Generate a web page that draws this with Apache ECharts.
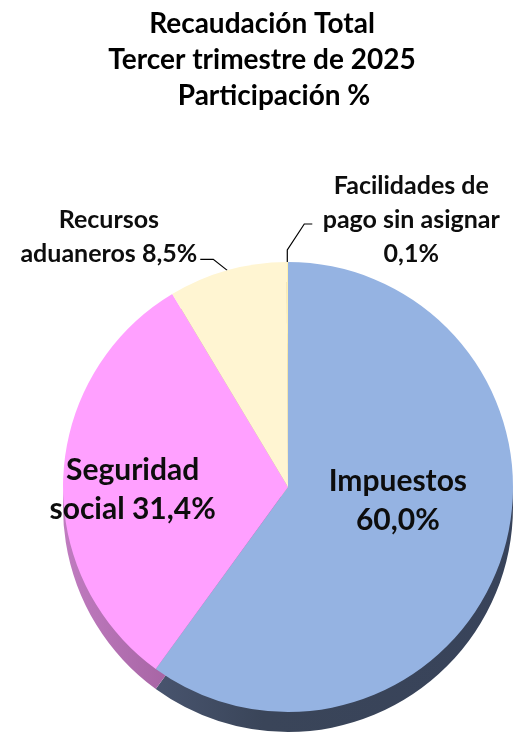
<!DOCTYPE html>
<html>
<head>
<meta charset="utf-8">
<script src="https://cdn.jsdelivr.net/npm/echarts@6/dist/echarts.min.js"></script>
<style>
  html, body { margin: 0; padding: 0; background: #fff; }
  #container { width: 529px; height: 733px; }
</style>
</head>
<body>
<div id="container"></div>
<script>
var categories = ['Impuestos', 'Seguridad social', 'Recursos aduaneros', 'Facilidades de pago sin asignar'];
var shares = [60.0, 31.4, 8.5, 0.1];
var labelTexts = ['Impuestos\n60,0%', 'Seguridad\nsocial 31,4%', 'Recursos\naduaneros 8,5%', 'Facilidades de\npago sin asignar\n0,1%'];
var topColors = ['#95b3e2', '#ffa0ff', '#fff5d2', '#fff0b0'];
var sideColors = ['#3a4559', '#8e4e88', '#b8ab80', '#b8ab80'];

var FONT = 'Lato';
var dom = document.getElementById('container');
var myChart = echarts.init(dom);

var topData = [];
var sideData = [];
for (var i = 0; i < categories.length; i++) {
    var outside = i >= 2;
    topData.push({
        value: shares[i],
        name: categories[i],
        itemStyle: { color: topColors[i] },
        label: {
            position: outside ? 'outside' : 'inside',
            formatter: labelTexts[i],
            fontSize: outside ? 25 : 30,
            lineHeight: outside ? 34 : 39
        },
        labelLine: { show: outside }
    });
    sideData.push({ value: shares[i], name: categories[i], itemStyle: { color: sideColors[i] } });
}
// side of the disc: darker shading going from light to dark
sideData[0].itemStyle.color = new echarts.graphic.LinearGradient(0, 0, 1, 0, [
    { offset: 0, color: '#48546e' }, { offset: 0.3, color: '#3a4559' }, { offset: 1, color: '#38435a' }
]);
sideData[1].itemStyle.color = new echarts.graphic.LinearGradient(0, 0, 1, 0, [
    { offset: 0, color: '#c07cc0' }, { offset: 1, color: '#8a4a84' }
]);

var titleStyle = { fontFamily: FONT, fontSize: 28, fontWeight: 'bold', color: '#000' };
var option = {
    backgroundColor: '#ffffff',
    title: [
        { text: 'Recaudación Total', left: 257, top: 5, textAlign: 'center', textStyle: titleStyle },
        { text: 'Tercer trimestre de 2025', left: 257, top: 41, textAlign: 'center', textStyle: titleStyle },
        { text: 'Participación %', left: 269, top: 77, textAlign: 'center', textStyle: titleStyle }
    ],
    series: [
        {
            name: 'lado',
            type: 'pie',
            silent: true,
            z: 1,
            center: [288, 507],
            radius: [0, 225],
            startAngle: 90,
            clockwise: true,
            label: { show: false },
            labelLine: { show: false },
            data: sideData
        },
        {
            name: 'Participación',
            type: 'pie',
            silent: true,
            z: 2,
            center: [288, 487],
            radius: [0, 225],
            startAngle: 90,
            clockwise: true,
            minAngle: 0,
            avoidLabelOverlap: false,
            label: {
                show: true,
                fontFamily: FONT,
                fontWeight: 'bold',
                color: '#0d0d0d',
                align: 'center'
            },
            labelLine: {
                length: 14,
                length2: 10,
                lineStyle: { color: '#000', width: 1.2 }
            },
            labelLayout: function (p) {
                var s = p.labelLinePoints ? p.labelLinePoints[0] : null;
                if (p.dataIndex === 0) {
                    return { dy: -22 };
                }
                if (p.dataIndex === 1) {
                    return { dx: -40, dy: 8 };
                }
                if (p.dataIndex === 2 && s) {
                    return {
                        x: s[0] - 30 - p.labelRect.width / 2,
                        y: s[1] - 33,
                        align: 'center',
                        verticalAlign: 'middle',
                        labelLinePoints: [s, [s[0] - 14, s[1] - 11], [s[0] - 27, s[1] - 11]]
                    };
                }
                if (p.dataIndex === 3 && s) {
                    return {
                        x: s[0] + 124,
                        y: s[1] - 42,
                        align: 'center',
                        verticalAlign: 'middle',
                        labelLinePoints: [s, [s[0], s[1] - 12], [s[0] + 17, s[1] - 38], [s[0] + 25, s[1] - 38]]
                    };
                }
            },
            data: topData
        }
    ]
};

if (option && typeof option === 'object') {
    myChart.setOption(option, true);
}
</script>
</body>
</html>
